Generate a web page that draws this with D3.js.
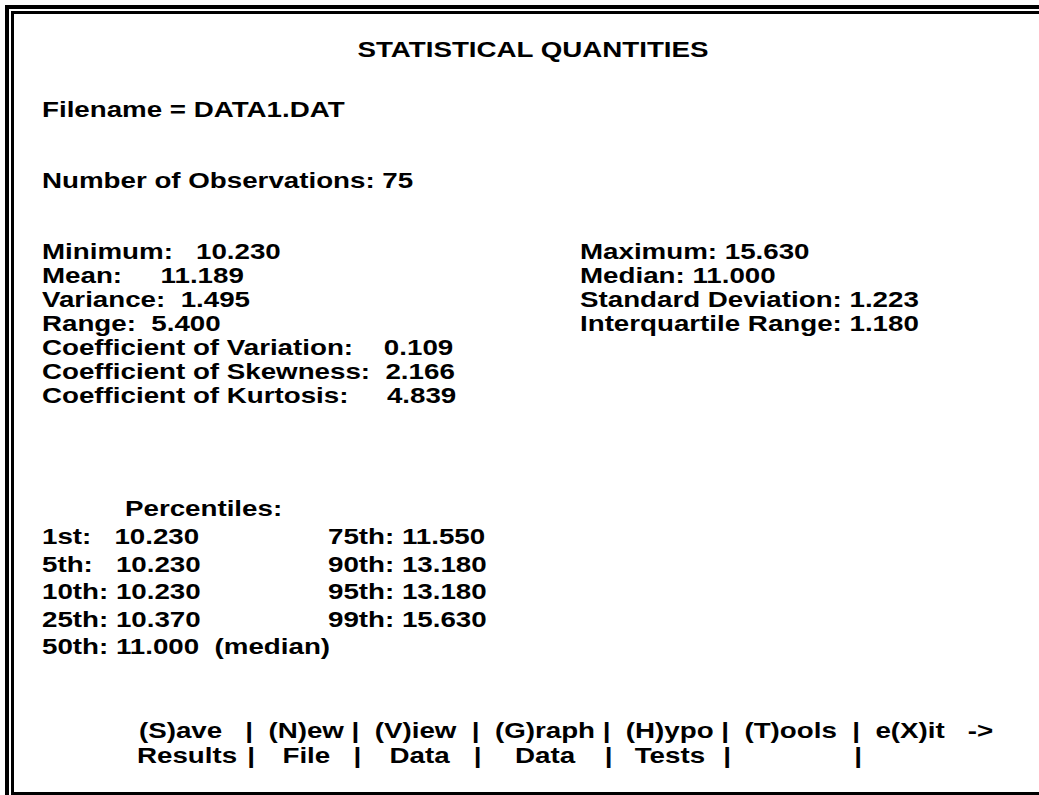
<!DOCTYPE html>
<html>
<head>
<meta charset="utf-8">
<script src="https://cdn.jsdelivr.net/npm/d3@7"></script>
<style>
  html, body { margin: 0; padding: 0; background: #fff; }
  svg text { font-family: "Liberation Sans", Arial, sans-serif; font-weight: bold; fill: #000; white-space: pre; }
</style>
</head>
<body>
<svg id="screen"></svg>
<script>
'use strict';

var title = 'STATISTICAL QUANTITIES';
var fileName = 'DATA1.DAT';
var numObs = 75;

var statLabelsLeft = ['Minimum:', 'Mean:', 'Variance:', 'Range:',
  'Coefficient of Variation:', 'Coefficient of Skewness:', 'Coefficient of Kurtosis:'];
var statValuesLeft = ['10.230', '11.189', '1.495', '5.400', '0.109', '2.166', '4.839'];
var statGapsLeft = [3, 5, 2, 2, 4, 2, 5];

var statLabelsRight = ['Maximum:', 'Median:', 'Standard Deviation:', 'Interquartile Range:'];
var statValuesRight = ['15.630', '11.000', '1.223', '1.180'];

var pctLabelsLeft = ['1st:', '5th:', '10th:', '25th:', '50th:'];
var pctValuesLeft = ['10.230', '10.230', '10.230', '10.370', '11.000  (median)'];
var pctGapsLeft = [3, 3, 1, 1, 1];
var pctLabelsRight = ['75th:', '90th:', '95th:', '99th:'];
var pctValuesRight = ['11.550', '13.180', '13.180', '15.630'];

var menuTop = '(S)ave   |  (N)ew |  (V)iew  |  (G)raph |  (H)ypo |  (T)ools  |  e(X)it   ->';
var menuBottom = ['Results', 'File', 'Data', 'Data', 'Tests', ''];

var width = 1039, height = 795;
var fontSize = 21.5, sx = 1.29;

var svg = d3.select('#screen')
  .attr('width', width)
  .attr('height', height);

// double frame, open on the right
svg.append('path')
  .attr('d', 'M7,' + height + 'V7H' + width)
  .attr('fill', 'none').attr('stroke', '#000').attr('stroke-width', 4);
svg.append('path')
  .attr('d', 'M12.5,' + (height - 3) + 'V12.5H' + width)
  .attr('fill', 'none').attr('stroke', '#000').attr('stroke-width', 3);
svg.append('line')
  .attr('x1', 11).attr('x2', width)
  .attr('y1', height - 1.5).attr('y2', height - 1.5)
  .attr('stroke', '#000').attr('stroke-width', 3);

function put(str, x, y, anchor) {
  return svg.append('text')
    .attr('transform', 'translate(' + x + ',' + y + ') scale(' + sx + ',1)')
    .attr('font-size', fontSize)
    .attr('text-anchor', anchor || 'start')
    .attr('xml:space', 'preserve')
    .text(str);
}

function pad(n) { return ' '.repeat(n); }

var left = 42;
put(title, 533, 57, 'middle');
put('Filename = ' + fileName, left, 117);
put('Number of Observations: ' + numObs, left, 188);

var yStats = d3.scaleLinear().domain([0, 1]).range([259, 283]);
statLabelsLeft.forEach(function (d, i) {
  put(d + pad(statGapsLeft[i]) + statValuesLeft[i], left, yStats(i));
});
statLabelsRight.forEach(function (d, i) {
  put(d + ' ' + statValuesRight[i], 580, yStats(i));
});

put('Percentiles:', 125, 516);
var yPct = d3.scaleLinear().domain([0, 1]).range([544, 571.5]);
pctLabelsLeft.forEach(function (d, i) {
  put(d + pad(pctGapsLeft[i]) + pctValuesLeft[i], left, yPct(i));
});
pctLabelsRight.forEach(function (d, i) {
  put(d + ' ' + pctValuesRight[i], 328, yPct(i));
});

// menu: the second row follows the bars of the first
var menuX = 139, menuY = [738, 763];
var menuRow = put(menuTop, menuX, menuY[0]);
var node = menuRow.node();
var barW = node.getSubStringLength(menuTop.indexOf('|'), 1) * sx;
var bars = [];
for (var k = 0; k < menuTop.length; k++) {
  if (menuTop[k] === '|') bars.push(menuX + node.getSubStringLength(0, k) * sx + barW / 2);
}
var edges = [menuX].concat(bars);
menuBottom.forEach(function (d, i) {
  if (i === 0) put(d, menuX - 2, menuY[1]);
  else if (d) put(d, (edges[i] + edges[i + 1]) / 2 + 4, menuY[1], 'middle');
  put('|', bars[i] + 2, menuY[1], 'middle');
});
</script>
</body>
</html>
